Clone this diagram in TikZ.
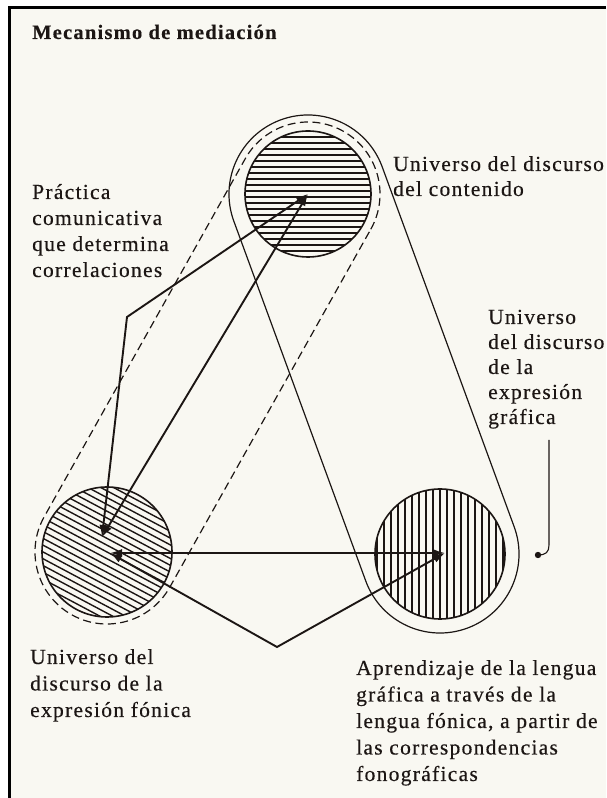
\documentclass[tikz,border=0pt]{standalone}
\usepackage{fontspec}
\setmainfont{Liberation Serif}[LetterSpace=6, FakeBold=0.4]
\usetikzlibrary{calc,arrows.meta}

\definecolor{paper}{RGB}{249,248,242}
\definecolor{ink}{RGB}{28,22,20}

\begin{document}
\begin{tikzpicture}[x=1pt, y=1pt,
  thinline/.style={draw=ink, line width=1.1pt},
  hatch/.style={draw=ink, line width=1.4pt},
  rim/.style={draw=ink, line width=1.6pt},
  belt/.style={draw=ink, line width=1.2pt},
  dashbelt/.style={draw=ink, line width=1.2pt, dash pattern=on 8pt off 4.5pt},
  dptr/.style={draw=ink, line width=1.9pt, {Latex[length=12pt,width=8pt]}-{Latex[length=12pt,width=8pt]}},
  lbl/.style={anchor=base west, align=left, inner sep=0pt, text=ink, font=\fontsize{21.5}{26}\selectfont}]
  \useasboundingbox (0,0) rectangle (606,798);

  % Paper and frame
  \fill[white] (0,0) rectangle (606,798);
  \fill[paper] (9,0) rectangle (606,790);
  \draw[black, line width=3pt] (9,0) -- (9,790) -- (606,790);

  % Centres of the three universes
  \coordinate (cont) at (308,604);
  \coordinate (fon) at (107,246);
  \coordinate (graf) at (440,244);

  % Dashed belt: contenido -- fonica
  \draw[dashbelt] ($(cont)+(-29.3:72)$) arc[start angle=-29.3, end angle=150.7, radius=72]
    -- ($(fon)+(150.7:72)$) arc[start angle=150.7, end angle=330.7, radius=72] -- cycle;

  % Solid belt: contenido -- grafica
  \draw[belt] ($(cont)+(20.1:79)$) arc[start angle=20.1, end angle=200.1, radius=79]
    -- ($(graf)+(200.1:79)$) arc[start angle=200.1, end angle=380.1, radius=79] -- cycle;

  % Universo del contenido (horizontal hatching)
  \fill[paper] (cont) circle (63);
  \begin{scope}
    \clip (cont) circle (63);
    \foreach \d in {-63,-57,...,63}
      \draw[hatch] ($(cont)+(-70,\d)$) -- ++(140,0);
  \end{scope}
  \draw[rim] (cont) circle (63);

  % Universo de la expresion fonica (slanted hatching)
  \fill[paper] (fon) circle (65);
  \begin{scope}
    \clip (fon) circle (65);
    \foreach \d in {-78,-72,...,78}
      \draw[hatch] ($(fon)+(152:85)+(62:\d)$) -- ++(-28:170);
  \end{scope}
  \draw[rim] (fon) circle (65);

  % Universo de la expresion grafica (vertical hatching)
  \fill[paper] (graf) circle (65);
  \begin{scope}
    \clip (graf) circle (65);
    \foreach \d in {-63,-56,...,63}
      \draw[hatch] ($(graf)+(\d,-70)$) -- ++(0,140);
  \end{scope}
  \draw[rim] (graf) circle (65);

  % Arrow ends and bends
  \coordinate (fon up) at (102,261);
  \coordinate (fon low) at (110,245);
  \coordinate (graf tip) at (445,245);
  \coordinate (kink) at (127,481);
  \coordinate (vee) at (277,151);

  % Correlations
  \draw[dptr] (cont) -- (kink) -- (fon up);
  \draw[dptr] (cont) -- (fon up);
  \draw[dptr] (fon low) -- (graf tip);
  \draw[dptr] (fon low) -- (vee) -- (graf tip);

  % Pointer to the grafica label
  \coordinate (hook top) at (549,358);
  \coordinate (hook dot) at (538,243);
  \draw[thinline] (hook top) -- (549,253) .. controls (549,246) and (546,243) .. (hook dot);
  \fill[ink] (hook dot) circle (3.2);

  % Labels (base = last line)
  \node[lbl, font=\bfseries\fontsize{20.5}{26}\selectfont] (titulo) at (32,759) {Mecanismo de mediación};
  \node[lbl] (practica) at (32,521) {Práctica\\comunicativa\\que determina\\correlaciones};
  \node[lbl, font=\fontsize{21.5}{25}\selectfont] (ucont) at (393,602) {Universo del discurso\\del contenido};
  \node[lbl, font=\fontsize{21.5}{25}\selectfont] (ugraf) at (488,374) {Universo\\del discurso\\de la\\expresión\\gráfica};
  \node[lbl, font=\fontsize{21.5}{26.5}\selectfont] (ufon) at (30,81) {Universo del\\discurso de la\\expresión fónica};
  \node[lbl, font=\fontsize{21.5}{26.5}\selectfont] (aprend) at (356,17) {Aprendizaje de la lengua\\gráfica a través de la\\lengua fónica, a partir de\\las correspondencias\\fonográficas};
\end{tikzpicture}
\end{document}
